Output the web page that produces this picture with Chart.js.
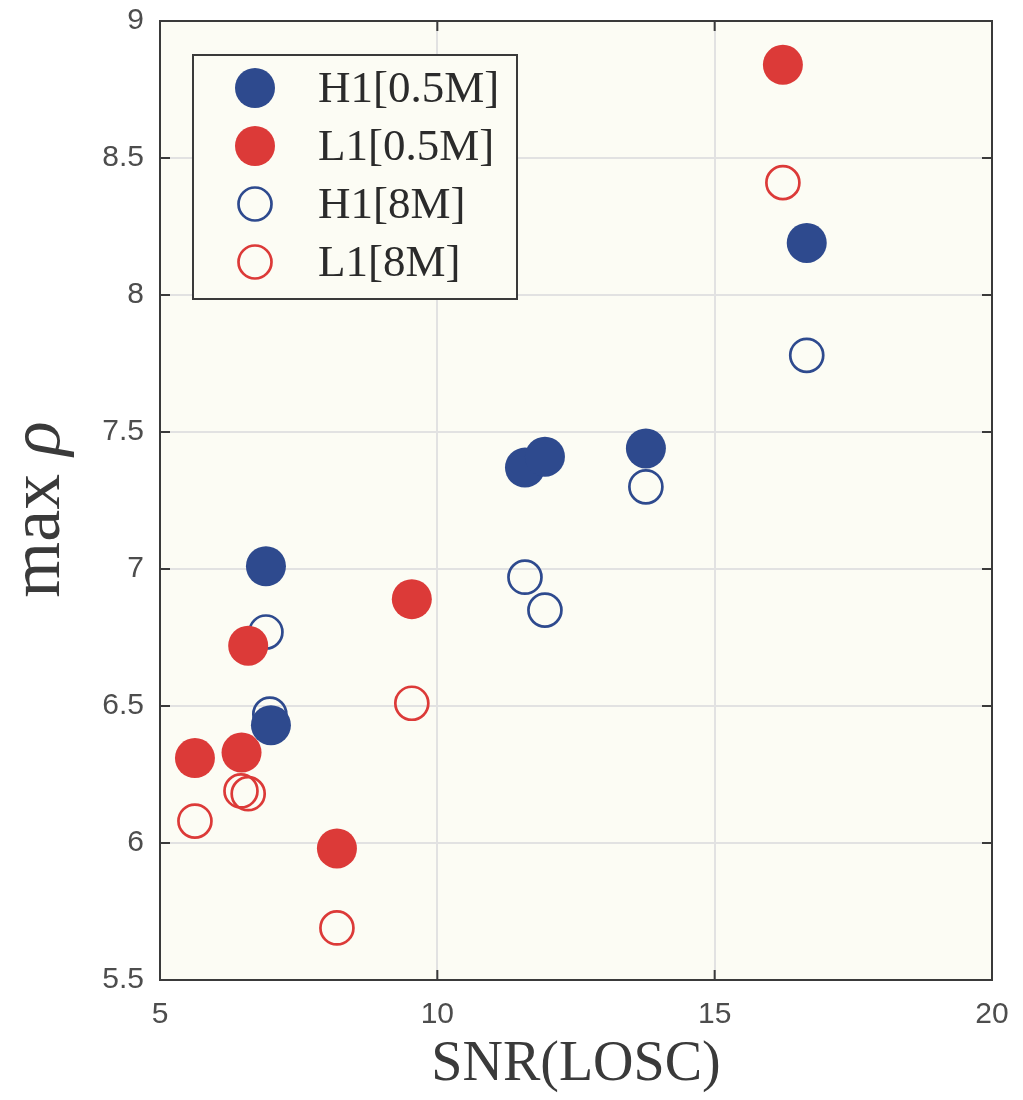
<!DOCTYPE html>
<html>
<head>
<meta charset="utf-8">
<script src="https://cdn.jsdelivr.net/npm/chart.js@4.4.1/dist/chart.umd.min.js"></script>
<style>
  body { margin: 0; background: #ffffff; }
  #wrap { width: 1023px; height: 1100px; }
</style>
</head>
<body>
<div id="wrap"><canvas id="rhoChart" width="1023" height="1100"></canvas></div>
<script>
// values
const seriesLabels = ['H1[0.5M]', 'L1[0.5M]', 'H1[8M]', 'L1[8M]'];

const h1HalfSnr = [6.91, 7.00, 11.58, 11.94, 13.76, 16.66];
const h1HalfRho = [7.01, 6.43, 7.37, 7.41, 7.44, 8.19];

const l1HalfSnr = [5.63, 6.47, 6.59, 8.19, 9.54, 16.23];
const l1HalfRho = [6.31, 6.33, 6.72, 5.98, 6.89, 8.84];

const h1EightSnr = [6.91, 6.98, 11.58, 11.94, 13.76, 16.66];
const h1EightRho = [6.77, 6.47, 6.97, 6.85, 7.30, 7.78];

const l1EightSnr = [5.63, 6.46, 6.59, 8.19, 9.54, 16.23];
const l1EightRho = [6.08, 6.19, 6.18, 5.69, 6.51, 8.41];

const xTicks = [5, 10, 15, 20];
const yTicks = [5.5, 6, 6.5, 7, 7.5, 8, 8.5, 9];

const blue = '#2e4a8e';
const red = '#dc3a38';

function toPoints(xs, ys) {
    return xs.map((x, i) => ({ x: x, y: ys[i] }));
}

function filledSet(label, xs, ys, color) {
    return {
        label: label,
        data: toPoints(xs, ys),
        backgroundColor: color,
        borderColor: color,
        borderWidth: 0,
        pointRadius: 20,
        pointHoverRadius: 20
    };
}

function openSet(label, xs, ys, color) {
    return {
        label: label,
        data: toPoints(xs, ys),
        backgroundColor: 'rgba(0,0,0,0)',
        borderColor: color,
        borderWidth: 2.7,
        pointRadius: 16.5,
        pointHoverRadius: 16.5
    };
}

// cream plot background, box and inward tick marks
const plotFrame = {
    id: 'plotFrame',
    beforeDraw(chart) {
        const { ctx, chartArea: a } = chart;
        ctx.save();
        ctx.fillStyle = '#fcfcf4';
        ctx.fillRect(a.left, a.top, a.right - a.left, a.bottom - a.top);
        ctx.restore();
    },
    afterDraw(chart) {
        const { ctx, chartArea: a, scales } = chart;
        ctx.save();
        ctx.strokeStyle = '#3a3a3a';
        ctx.lineWidth = 2;
        ctx.strokeRect(a.left, a.top, a.right - a.left, a.bottom - a.top);
        const len = 10;
        ctx.beginPath();
        scales.y.ticks.forEach(t => {
            const py = scales.y.getPixelForValue(t.value);
            ctx.moveTo(a.left, py); ctx.lineTo(a.left + len, py);
            ctx.moveTo(a.right, py); ctx.lineTo(a.right - len, py);
        });
        scales.x.ticks.forEach(t => {
            const px = scales.x.getPixelForValue(t.value);
            ctx.moveTo(px, a.bottom); ctx.lineTo(px, a.bottom - len);
            ctx.moveTo(px, a.top); ctx.lineTo(px, a.top + len);
        });
        ctx.stroke();

        // y title "max ρ" with an italic rho
        const cy = (a.top + a.bottom) / 2 + 9;
        ctx.translate(40, cy);
        ctx.rotate(-Math.PI / 2);
        ctx.fillStyle = '#3a3a3a';
        ctx.textBaseline = 'middle';
        ctx.textAlign = 'left';
        ctx.font = '72px "Liberation Serif", serif';
        const head = 'max ';
        const headW = ctx.measureText(head).width;
        ctx.font = 'italic 72px "Liberation Serif", serif';
        const rhoW = ctx.measureText('ρ').width;
        const start = -(headW + rhoW) / 2;
        ctx.font = '72px "Liberation Serif", serif';
        ctx.fillText(head, start, 0);
        ctx.font = 'italic 72px "Liberation Serif", serif';
        ctx.fillText('ρ', start + headW, 0);
        ctx.restore();
    }
};

// boxed legend inside the plot, top-left
const boxLegend = {
    id: 'boxLegend',
    afterDraw(chart) {
        const { ctx } = chart;
        const box = { left: 193, top: 55, right: 517, bottom: 299 };
        ctx.save();
        ctx.fillStyle = '#fcfcf4';
        ctx.fillRect(box.left, box.top, box.right - box.left, box.bottom - box.top);
        ctx.strokeStyle = '#3a3a3a';
        ctx.lineWidth = 2;
        ctx.strokeRect(box.left, box.top, box.right - box.left, box.bottom - box.top);
        ctx.font = '45px "Liberation Serif", serif';
        ctx.textBaseline = 'middle';
        ctx.textAlign = 'left';
        chart.data.datasets.forEach((ds, i) => {
            const cy = 88 + i * 58;
            const cx = 255;
            ctx.beginPath();
            ctx.arc(cx, cy, ds.pointRadius, 0, Math.PI * 2);
            if (ds.borderWidth > 0) {
                ctx.strokeStyle = ds.borderColor;
                ctx.lineWidth = ds.borderWidth;
                ctx.stroke();
            } else {
                ctx.fillStyle = ds.backgroundColor;
                ctx.fill();
            }
            ctx.fillStyle = '#2b2b2b';
            ctx.fillText(ds.label, 318, cy + 2);
        });
        ctx.restore();
    }
};

const ctx = document.getElementById('rhoChart').getContext('2d');
new Chart(ctx, {
    type: 'scatter',
    data: {
        datasets: [
            filledSet(seriesLabels[0], h1HalfSnr, h1HalfRho, blue),
            filledSet(seriesLabels[1], l1HalfSnr, l1HalfRho, red),
            openSet(seriesLabels[2], h1EightSnr, h1EightRho, blue),
            openSet(seriesLabels[3], l1EightSnr, l1EightRho, red)
        ]
    },
    options: {
        responsive: false,
        animation: false,
        layout: { padding: { top: 21, right: 31, left: 0, bottom: 0 } },
        plugins: {
            legend: { display: false },
            tooltip: { enabled: false }
        },
        scales: {
            x: {
                type: 'linear',
                min: 5,
                max: 20,
                afterBuildTicks: scale => { scale.ticks = xTicks.map(v => ({ value: v })); },
                afterFit: scale => {
                    scale.height = 120;
                    scale.paddingLeft = 0;
                    scale.paddingRight = 0;
                },
                grid: { color: '#e2e2e2', lineWidth: 2, drawTicks: false },
                border: { display: false },
                ticks: {
                    padding: 17,
                    color: '#4d4d4d',
                    font: { family: '"Liberation Sans", Arial, sans-serif', size: 30 },
                    callback: v => String(v)
                },
                title: {
                    display: true,
                    text: 'SNR(LOSC)',
                    color: '#3a3a3a',
                    padding: { top: 0, bottom: 1 },
                    font: { family: '"Liberation Serif", serif', size: 56, lineHeight: 1.2 }
                }
            },
            y: {
                type: 'linear',
                min: 5.5,
                max: 9,
                afterBuildTicks: scale => { scale.ticks = yTicks.map(v => ({ value: v })); },
                afterFit: scale => {
                    scale.width = 160;
                    scale.paddingTop = 0;
                    scale.paddingBottom = 0;
                },
                grid: { color: '#e2e2e2', lineWidth: 2, drawTicks: false },
                border: { display: false },
                ticks: {
                    padding: 16,
                    color: '#4d4d4d',
                    font: { family: '"Liberation Sans", Arial, sans-serif', size: 30 },
                    callback: v => String(v)
                },
                title: { display: false }
            }
        }
    },
    plugins: [plotFrame, boxLegend]
});
</script>
</body>
</html>
